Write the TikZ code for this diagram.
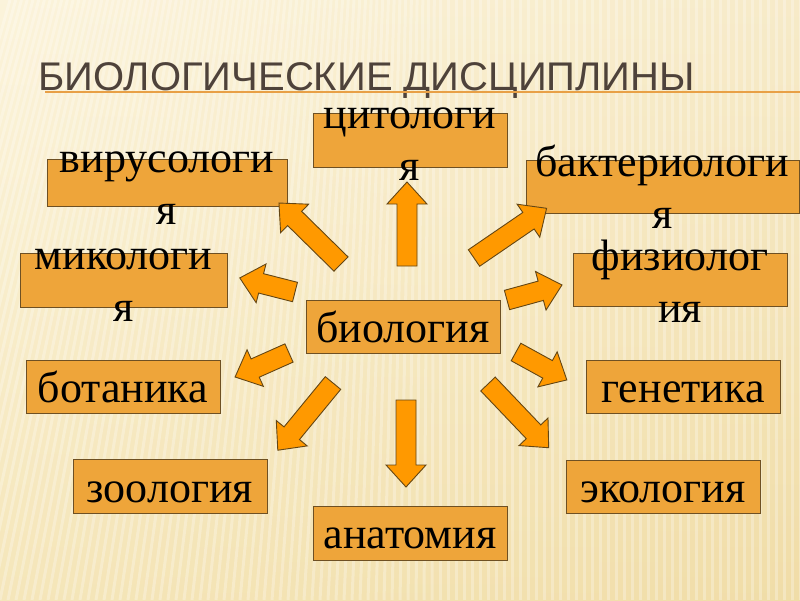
\documentclass[tikz,border=0pt]{standalone}
\usepackage{fontspec}
\setmainfont{Liberation Serif}
\newfontfamily\titlefont{Liberation Sans}
\definecolor{bgA}{RGB}{250,238,200}
\definecolor{bgB}{RGB}{243,224,172}
\definecolor{bgC}{RGB}{237,216,160}
\definecolor{boxfill}{RGB}{238,165,58}
\definecolor{boxline}{RGB}{110,80,35}
\definecolor{arrfill}{RGB}{255,153,0}
\definecolor{arrline}{RGB}{100,70,20}
\definecolor{titlecol}{RGB}{78,66,58}
\definecolor{rulecol}{RGB}{232,160,70}
\begin{document}
\begin{tikzpicture}[x=1pt,y=-1pt,
  box/.style={draw=boxline, fill=boxfill, line width=1pt, inner sep=0pt},
  lbl/.style={font=\fontsize{44}{52}\selectfont, text=black, align=center, inner sep=0pt, anchor=base},
  arrowsty/.style={draw=arrline, fill=arrfill, line width=0.9pt, line join=miter},
  stripe/.style={white, opacity=0.28, line width=3pt},
  pics/barrow/.style={code={\draw[arrowsty] (0,-10) -- ({#1-22},-10) -- ({#1-22},-20) -- (#1,0) -- ({#1-22},20) -- ({#1-22},10) -- (0,10) -- cycle;}}
]
\useasboundingbox (0,0) rectangle (800,600);
\shade[left color=bgA, right color=bgB] (0,0) rectangle (800,600);
\shade[top color=white, bottom color=bgC, opacity=0.35] (0,0) rectangle (800,600);
\begin{scope}
\clip (0,0) rectangle (800,600);
\foreach \x in {-160,-152,...,800} {
  \pgfmathsetmacro\s{max(0,170*(1-(\x+160)/600))}
  \draw[stripe] (\x+\s,0) -- (\x,600);
}
\end{scope}

% title
\node[font=\titlefont\fontsize{40}{42}\selectfont, text=titlecol, anchor=base west, inner sep=0pt] (title) at (38,90) {БИОЛОГИЧЕСКИЕ ДИСЦИПЛИНЫ};
\coordinate (ruleA) at (45,92);
\coordinate (ruleB) at (800,92);
\draw[rulecol, line width=2pt] (ruleA) -- (ruleB);

% boxes
\node[box, minimum width=240, minimum height=47] (vir) at (167,182.5) {};
\node[box, minimum width=194, minimum height=54] (cyt) at (410,140) {};
\node[box, minimum width=273, minimum height=53] (bak) at (662.5,186.5) {};
\node[box, minimum width=207, minimum height=54] (mik) at (123.5,280) {};
\node[box, minimum width=214, minimum height=53] (fiz) at (680,279.5) {};
\node[box, minimum width=194, minimum height=53] (bio) at (403,326.5) {};
\node[box, minimum width=194, minimum height=53] (bot) at (123,386.5) {};
\node[box, minimum width=194, minimum height=53] (gen) at (683,386.5) {};
\node[box, minimum width=194, minimum height=54] (zoo) at (170,486) {};
\node[box, minimum width=194, minimum height=53] (eko) at (663,486.5) {};
\node[box, minimum width=194, minimum height=54] (ana) at (410,533) {};

% labels (base anchor = baseline of the last line)
\node[lbl] (virT) at (167,224) {вирусологи\\я};
\node[lbl] (cytT) at (410,180) {цитологи\\я};
\node[lbl] (bakT) at (662.5,228) {бактериологи\\я};
\node[lbl] (mikT) at (123.5,321) {микологи\\я};
\node[lbl] (fizT) at (680,322) {физиолог\\ия};
\node[lbl] (bioT) at (403,342) {биология};
\node[lbl] (botT) at (123,402) {ботаника};
\node[lbl] (genT) at (683,402) {генетика};
\node[lbl] (zooT) at (170,502) {зоология};
\node[lbl] (ekoT) at (663,502) {экология};
\node[lbl] (anaT) at (410,548) {анатомия};

% block arrows
\pic[rotate=90] at (407,266) {barrow=84};
\pic[rotate=34.4] at (474,258) {barrow=88};
\pic[rotate=15.3] at (507,300) {barrow=57};
\pic[rotate=-28.8] at (516,352) {barrow=58};
\pic[rotate=-46.4] at (488,384) {barrow=88};
\pic[rotate=-90] at (406,400) {barrow=87};
\pic[rotate=-129.4] at (333,383) {barrow=87};
\pic[rotate=-156] at (289,353) {barrow=59};
\pic[rotate=165.7] at (295,292) {barrow=57};
\pic[rotate=135.5] at (341,264) {barrow=87};
\end{tikzpicture}
\end{document}
